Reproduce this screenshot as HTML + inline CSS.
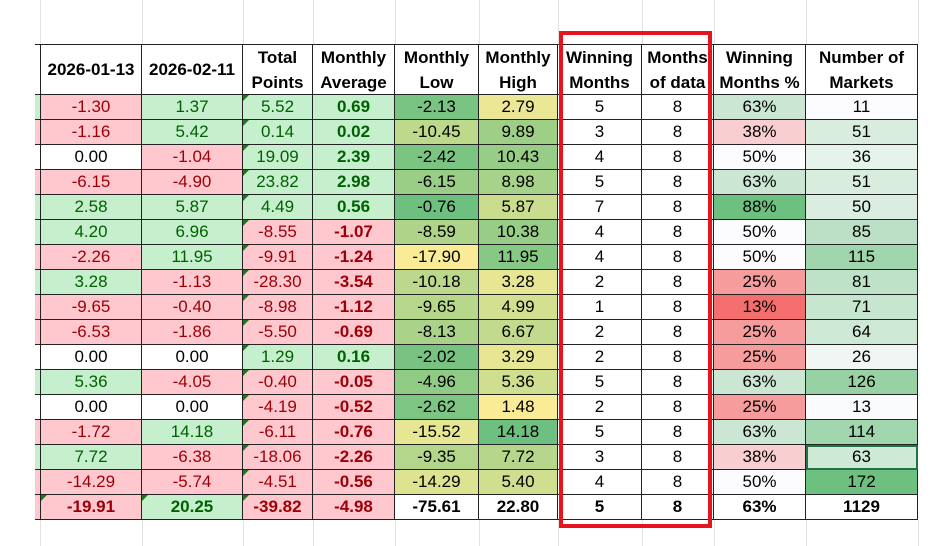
<!DOCTYPE html>
<html><head><meta charset="utf-8"><style>
html,body{margin:0;padding:0;background:#fff;width:938px;height:546px;overflow:hidden}
#w{position:relative;width:938px;height:546px;font-family:"Liberation Sans",Arial,sans-serif}
.c{position:absolute;box-sizing:border-box;display:flex;align-items:center;justify-content:center;text-align:center;font-size:17px;color:#000;white-space:nowrap;overflow:hidden;border-right:1.5px solid #222;border-bottom:1.5px solid #222}
.h{font-weight:bold;line-height:25px;font-size:17px}
.g{position:absolute;width:1px;background:#e2e2e2}
.tri{position:absolute;left:0;top:0;width:0;height:0;border-top:6px solid #1a7a1a;border-right:6px solid transparent}
</style></head><body><div id="w"></div>
<script>
var X=[40,142,243,313,395,479,558,642,714,806,918];
var W=document.getElementById('w');
function el(cls,x,y,w,h,html,st){var d=document.createElement('div');d.className=cls;d.style.left=x+'px';d.style.top=y+'px';d.style.width=w+'px';d.style.height=h+'px';if(html!=null)d.innerHTML=html;if(st)d.style.cssText+=st;W.appendChild(d);return d;}
X.forEach(function(x){el('g',x,0,1,44);el('g',x,520,1,26);});
var hd=['2026-01-13','2026-02-11','Total<br>Points','Monthly<br>Average','Monthly<br>Low','Monthly<br>High','Winning<br>Months','Months<br>of data','Winning<br>Months %','Number of<br>Markets'];
el('c',35,44,5,51,'',"border-top:1.5px solid #222;border-right:none");
for(var i=0;i<10;i++){var d=el('c h',X[i],44,X[i+1]-X[i],51,'<div>'+hd[i]+'</div>',"border-top:1.5px solid #222"+(i==0?";border-left:1.5px solid #222":""));}
var R=[
[-1.30,1.37,5.52,0.69,-2.13,2.79,5,8,63,11],
[-1.16,5.42,0.14,0.02,-10.45,9.89,3,8,38,51],
[0.00,-1.04,19.09,2.39,-2.42,10.43,4,8,50,36],
[-6.15,-4.90,23.82,2.98,-6.15,8.98,5,8,63,51],
[2.58,5.87,4.49,0.56,-0.76,5.87,7,8,88,50],
[4.20,6.96,-8.55,-1.07,-8.59,10.38,4,8,50,85],
[-2.26,11.95,-9.91,-1.24,-17.90,11.95,4,8,50,115],
[3.28,-1.13,-28.30,-3.54,-10.18,3.28,2,8,25,81],
[-9.65,-0.40,-8.98,-1.12,-9.65,4.99,1,8,13,71],
[-6.53,-1.86,-5.50,-0.69,-8.13,6.67,2,8,25,64],
[0.00,0.00,1.29,0.16,-2.02,3.29,2,8,25,26],
[5.36,-4.05,-0.40,-0.05,-4.96,5.36,5,8,63,126],
[0.00,0.00,-4.19,-0.52,-2.62,1.48,2,8,25,13],
[-1.72,14.18,-6.11,-0.76,-15.52,14.18,5,8,63,114],
[7.72,-6.38,-18.06,-2.26,-9.35,7.72,3,8,38,63],
[-14.29,-5.74,-4.51,-0.56,-14.29,5.40,4,8,50,172]];
var L0=['g','r','w','r','g','g','r','g','r','r','w','g','w','r','g','r'];
function mix(a,b,t){return 'rgb('+a.map(function(v,k){return Math.round(v+(b[k]-v)*t)}).join(',')+')';}
var GR=[110,192,128],YE=[250,236,150],RD=[244,110,110],WH=[252,252,255];
function pn(v){if(v>0)return['#c6efce','#006100'];if(v<0)return['#ffc7ce','#9c0006'];return['#fff','#000'];}
for(var r=0;r<16;r++){var y=95+r*25,a=R[r];
 var l0=L0[r];el('c',35,y,5,25,'',"border-right:none;background:"+(l0=='g'?'#c6efce':l0=='r'?'#ffc7ce':'#fff'));
 for(var i=0;i<10;i++){var v=a[i],txt,bg='#fff',col='#000',st='';
  if(i<4){var p=pn(v);bg=p[0];col=p[1];txt=v.toFixed(2);if(i==3)st=';font-weight:bold';}
  else if(i==4){txt=v.toFixed(2);bg=mix(YE,GR,(v+17.9)/(17.14));}
  else if(i==5){txt=v.toFixed(2);bg=mix(YE,GR,(v-1.48)/(12.7));}
  else if(i<8){txt=v;}
  else if(i==8){txt=v+'%';bg=v<50?mix(RD,WH,(v-13)/37):mix(WH,GR,(v-50)/38);}
  else {txt=v;bg=mix(WH,GR,(v-11)/161);}
  var d=el('c',X[i],y,X[i+1]-X[i],25,txt,"background:"+bg+";color:"+col+st+(i==0?";border-left:1.5px solid #222":""));
  if(i==2){var t=document.createElement('div');t.className='tri';d.appendChild(t);}
 }}
var T=['-19.91','20.25','-39.82','-4.98','-75.61','22.80','5','8','63%','1129'];
el('c',35,495,5,25,'',"border-right:none;background:#ffc7ce");
for(var i=0;i<10;i++){var bg='#fff',col='#000';if(i<4){var v=parseFloat(T[i]);var p=pn(v);bg=p[0];col=p[1];}
 var d=el('c',X[i],495,X[i+1]-X[i],25,T[i],"font-weight:bold;background:"+bg+";color:"+col+(i==0?";border-left:1.5px solid #222":""));
 if(i<3){var t=document.createElement('div');t.className='tri';d.appendChild(t);}}
el('c',806,445,112,25,'',"background:transparent;border:2px solid #217346");
el('c',559,31,153,497,'',"background:transparent;border:4px solid #e8141c");
</script></body></html>
